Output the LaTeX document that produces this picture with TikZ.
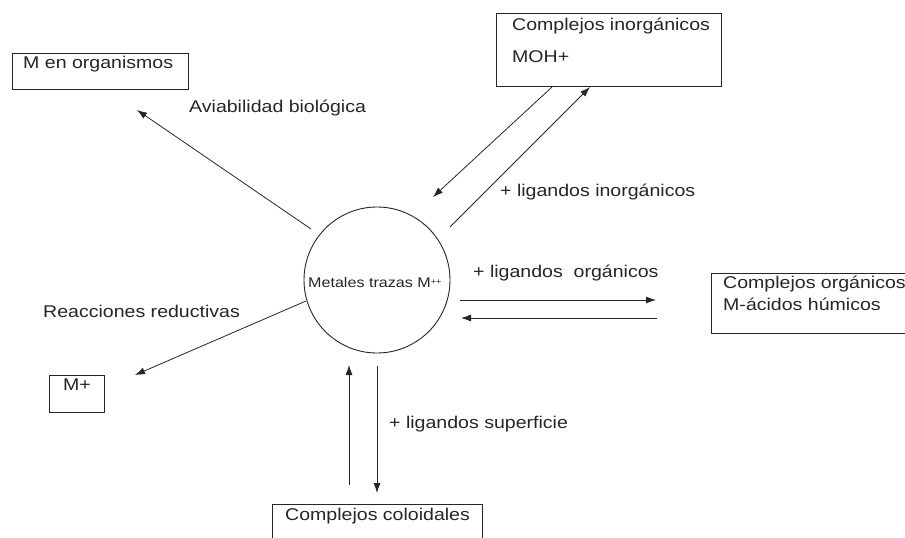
\documentclass[tikz,border=0pt]{standalone}
\usepackage{fontspec}
\setmainfont{Liberation Sans}[FakeStretch=1.15]
\usetikzlibrary{arrows.meta}
\definecolor{ink}{gray}{0.15}
\tikzset{
  box/.style={draw=ink, line width=0.9pt, inner sep=0pt},
  lbl/.style={anchor=base west, inner sep=0pt, text=ink, font=\fontsize{17}{20}\selectfont},
  arr/.style={draw=ink, line width=0.8pt, -{Latex[length=10pt,width=7pt]}},
  ln/.style={draw=ink, line width=0.8pt}
}
\begin{document}
\begin{tikzpicture}[x=1pt,y=-1pt]
\useasboundingbox[fill=white] (0,0) rectangle (905,538);
% boxes
\node[box, minimum width=176pt, minimum height=36pt] (borg) at (100,71) {};
\node[box, minimum width=225pt, minimum height=73pt] (binorg) at (608.5,49.5) {};
\node[box, minimum width=199pt, minimum height=60pt] (borgc) at (810.5,303) {};
\node[box, minimum width=55pt, minimum height=37pt] (bmplus) at (76.5,393.5) {};
\node[box, minimum width=210pt, minimum height=41pt] (bcol) at (377,524.5) {};
% circle
\node[draw=ink, line width=0.9pt, circle, minimum size=146pt, inner sep=0pt] (c) at (377,280) {};
% texts
\node[lbl] (t1) at (23,68) {M en organismos};
\node[lbl] (t2) at (512,30) {Complejos inorgánicos};
\node[lbl] (t3) at (512,62) {MOH+};
\node[lbl, font=\fontsize{14}{16}\selectfont] (t4) at (308,287) {Metales trazas M\raisebox{3pt}{\fontsize{8}{8}\selectfont ++}};
\node[lbl] (t5) at (723,288) {Complejos orgánicos};
\node[lbl] (t6) at (723,310) {M-ácidos húmicos};
\node[lbl] (t7) at (63,390) {M+};
\node[lbl] (t8) at (285,520) {Complejos coloidales};
\node[lbl] (l1) at (189,112) {Aviabilidad biológica};
\node[lbl] (l2) at (500,196) {+ ligandos inorgánicos};
\node[lbl] (l3) at (473,277) {+ ligandos\ \ orgánicos};
\node[lbl] (l4) at (43,317) {Reacciones reductivas};
\node[lbl] (l5) at (389,428) {+ ligandos superficie};
% connector end points
\coordinate (a1s) at (311,229); \coordinate (a1e) at (137,110);
\coordinate (a2s) at (552,87);  \coordinate (a2e) at (433,197);
\coordinate (a3s) at (450,227); \coordinate (a3e) at (590,87);
\coordinate (a4s) at (460,300); \coordinate (a4e) at (656,300);
\coordinate (a5s) at (657,318); \coordinate (a5e) at (461,318);
\coordinate (a6s) at (306,301); \coordinate (a6e) at (135,375);
\coordinate (a7s) at (349,485); \coordinate (a7e) at (349,365);
\coordinate (a8s) at (377,366); \coordinate (a8e) at (377,493);
% connectors
\draw[arr] (a1s) -- (a1e);
\draw[arr] (a2s) -- (a2e);
\draw[arr] (a3s) -- (a3e);
\draw[arr] (a4s) -- (a4e);
\draw[arr] (a5s) -- (a5e);
\draw[arr] (a6s) -- (a6e);
\draw[arr] (a7s) -- (a7e);
\draw[arr] (a8s) -- (a8e);
\end{tikzpicture}
\end{document}
